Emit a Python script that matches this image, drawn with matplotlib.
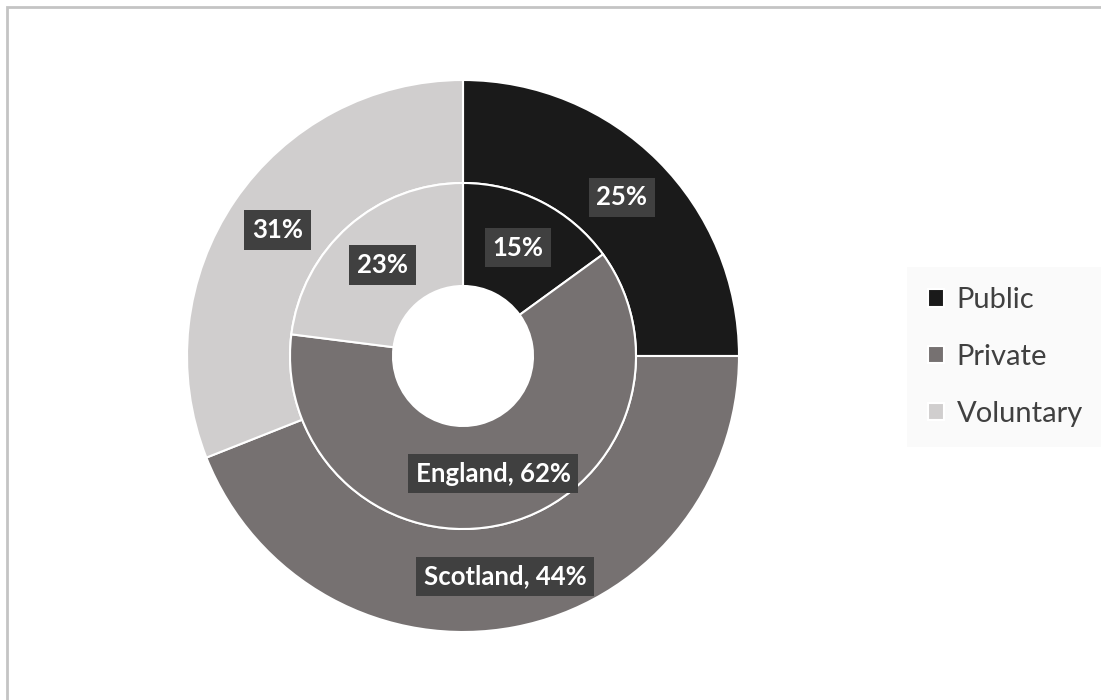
import numpy as np
import matplotlib as mpl
import matplotlib.pyplot as plt
from matplotlib.patches import Rectangle

mpl.rc('font', family=['Lato', 'DejaVu Sans'])

categories = ['Public', 'Private', 'Voluntary']
scotland = [25, 44, 31]
england = [15, 62, 23]
colors = ['#1a1a1a', '#767171', '#d0cece']


def ring_labels(ax, values, r_in, r_out, prefix, cx, cy):
    total = sum(values)
    start = 0.0
    for i, v in enumerate(values):
        mid = (start + v / 2) / total
        ang = np.deg2rad(90 - 360 * mid)
        r = (r_in + r_out) / 2
        txt = f'{prefix}, {v}%' if i == 1 else f'{v}%'
        ax.text(
            cx + r * np.cos(ang),
            cy + r * np.sin(ang),
            txt,
            ha='center',
            va='center',
            color='white',
            fontsize=18.5,
            fontweight='bold',
            bbox=dict(boxstyle='square,pad=0.3', fc='#404040', ec='none'),
            zorder=5,
        )
        start += v


def main() -> None:
    fig = plt.figure(figsize=(11.01, 7.00), dpi=100)
    ax = fig.add_axes([0, 0, 1, 1])

    # chart border
    fig.patches.append(Rectangle((7 / 1101, -0.01), 1.02, (693 + 7) / 700,
                                 transform=fig.transFigure, fill=False,
                                 ec='#c4c4c4', lw=2))

    cx, cy = 463, 344
    r_out, r_mid, r_hole = 276, 173, 70

    wedges, _ = ax.pie(
        scotland,
        colors=colors,
        radius=r_out,
        center=(cx, cy),
        startangle=90,
        counterclock=False,
        wedgeprops=dict(width=r_out - r_mid, edgecolor='white', linewidth=1.5),
        frame=True,
    )
    ax.pie(
        england,
        colors=colors,
        radius=r_mid,
        center=(cx, cy),
        startangle=90,
        counterclock=False,
        wedgeprops=dict(width=r_mid - r_hole, edgecolor='white', linewidth=1.5),
        frame=True,
    )
    ax.set_xlim(0, 1101)
    ax.set_ylim(0, 700)
    ax.set_aspect('equal')
    ax.axis('off')

    ring_labels(ax, scotland, r_mid, r_out, 'Scotland', cx, cy)
    ring_labels(ax, england, r_hole, r_mid, 'England', cx, cy)

    leg = ax.legend(
        wedges,
        categories,
        loc='center left',
        bbox_to_anchor=(916 / 1101, 1 - 357 / 700),
        frameon=True,
        fontsize=21,
        labelspacing=1.05,
        handlelength=0.55,
        handleheight=0.55,
        handletextpad=0.45,
        borderpad=0.4,
        borderaxespad=0,
        labelcolor='#404040',
    )
    leg.get_frame().set_facecolor('#f9f9f9')
    leg.get_frame().set_edgecolor('none')
    leg.get_frame().set_boxstyle('square')

    fig.savefig('out.png', dpi=100)


if __name__ == '__main__':
    main()
